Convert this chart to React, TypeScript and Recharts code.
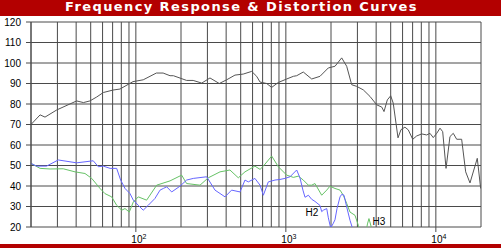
import React from 'react';
import { LineChart, Line, XAxis, YAxis, CartesianGrid, ReferenceDot } from 'recharts';

const TITLE = 'Frequency Response & Distortion Curves';

const Y_TICKS = [20, 30, 40, 50, 60, 70, 80, 90, 100, 110, 120];
const Y_MINOR = Array.from({ length: 101 }, (_, i) => 20 + i);
const X_GRID = [
  20, 30, 40, 50, 60, 70, 80, 90,
  100, 200, 300, 400, 500, 600, 700, 800, 900,
  1000, 2000, 3000, 4000, 5000, 6000, 7000, 8000, 9000,
  10000, 20000,
];
const DECADE_LABELS: Record<number, string> = { 100: '2', 1000: '3', 10000: '4' };

// [Hz, dB]
const response: [number, number][] = [
  [20, 70], [23, 74.7], [24.8, 73.6], [29.7, 77.1], [40.3, 81.5], [44.7, 80.7], [49.4, 81.5],
  [54.8, 83.4], [60.7, 85.6], [70.4, 86.8], [78.4, 87.3], [95.7, 90.9], [112, 91.8], [137, 95.1],
  [152, 95.1], [169, 93.8], [178, 93.8], [218, 91.5], [241, 91.5], [275, 90.2], [312, 92.7],
  [360, 90], [403, 91.8], [458, 94.1], [520, 94.6], [592, 95.9], [639, 93.5], [673, 90.7],
  [745, 90], [805, 88.1], [891, 90.5], [1013, 92.2], [1122, 93.5], [1181, 93.8], [1307, 95.6],
  [1487, 92.2], [1689, 93.5], [1920, 97.6], [2126, 98.4], [2357, 102.5], [2545, 98.4],
  [2748, 89.4], [2967, 88.6], [3282, 86.9], [3638, 83.7], [4034, 79.6], [4358, 78.5],
  [4512, 76.3], [4748, 82], [5000, 84], [5200, 80.4], [5594, 63.5], [5858, 67.5], [6222, 68.7],
  [6547, 67.4], [7011, 62.8], [7452, 64.4], [8048, 65.4], [8690, 64.9], [9138, 65.7],
  [9610, 63.6], [10136, 65.7], [10660, 68.2], [11110, 66.5], [11695, 48.6], [12420, 64.1],
  [13065, 65.7], [13770, 62.8], [14860, 62.8], [15810, 46.9], [16890, 41.5], [18890, 53.5],
  [19900, 38.8],
];

const h2: [number, number][] = [
  [20, 51], [21.8, 49.7], [25.4, 49.7], [30.4, 52.7], [40.3, 51.3], [52, 52.3], [56.2, 49.4],
  [60.7, 49.7], [67.3, 48.6], [74.5, 48.6], [79.2, 42.9], [84.7, 38.8], [91.4, 36.3],
  [96.2, 33.1], [103.8, 30.6], [112, 28.2], [121, 30.6], [134, 33.9], [145, 38], [152.5, 38.8],
  [160.6, 39.6], [173.4, 37.1], [196.8, 39.9], [218, 42.9], [241.5, 43.7], [296.6, 44.5],
  [337, 38], [393, 34.7], [435, 38], [495, 37.1], [534, 42.9], [562, 42], [622, 43.7],
  [673, 40.4], [708, 35.5], [764, 42], [847, 42.9], [914, 43.2], [986, 43.7], [1066, 44.5],
  [1181, 47.8], [1242, 44], [1300, 38], [1342, 34.5], [1413, 35.5], [1487, 33.5], [1564, 32.5],
  [1689, 30.5], [1734, 27.5], [1778, 28.2], [1873, 29], [1920, 24.5], [1990, 19.5],
  [2061, 21.5], [2126, 23.5], [2193, 29], [2297, 34.7], [2357, 35.9], [2442, 35.5],
  [2545, 29.8], [2677, 23.3], [2792, 19], [2850, 16],
];

const h3: [number, number][] = [
  [20, 51], [23, 48.6], [26.8, 48.3], [32.8, 48.4], [39.3, 46.9], [45.8, 46.1], [50.8, 43.7],
  [57.7, 38.8], [62.2, 36.3], [69, 34.7], [74.5, 30.6], [80.5, 28.2], [84.7, 29], [90.4, 27.3],
  [96.2, 32.2], [103.8, 34.7], [118, 33.1], [137.7, 40.4], [169, 42.5], [202, 45.3], [218, 41.2],
  [267.7, 40.4], [304, 44], [364, 46.9], [424, 47.8], [482, 44], [534, 46.9], [622, 49.7],
  [673, 48.1], [708, 49.7], [805, 54.6], [891, 49.4], [1013, 45.3], [1122, 44.2], [1211, 44.8],
  [1307, 42.9], [1413, 40.4], [1487, 40.4], [1564, 41.2], [1734, 35.5], [1873, 38], [1968, 39.9],
  [2126, 38.8], [2297, 38], [2415, 35.5], [2545, 31.5], [2677, 27.3], [2891, 25.7], [3043, 20.8],
  [3121, 17], [3300, 16], [3420, 17.5], [3500, 21.5], [3582, 24.1], [3694, 20.5], [3760, 17],
];

const H2_LABEL = { f: 1493, db: 27 };
const H3_LABEL = { f: 4178, db: 22.5 };

const toRows = (pts: [number, number][]) => pts.map(([f, db]) => ({ f, db }));

const RED = '#b30000';
const GRID = '#4a4a4a';
const FONT = '"Liberation Sans", Arial, sans-serif';

const XTick = (props: any) => {
  const { x, y, payload } = props;
  const exp = DECADE_LABELS[payload.value];
  if (!exp) return <g />;
  return (
    <g>
      <line x1={x} y1={y} x2={x} y2={y + 5} stroke={GRID} />
      <text x={x - 4.5} y={y + 16} fontSize={10} fill="#000" fontFamily={FONT}>
        10
        <tspan dy={-4} fontSize={7}>
          {exp}
        </tspan>
      </text>
    </g>
  );
};

const App = () => {
  return (
    <div style={{ position: 'relative', width: 501, height: 248, background: '#fff', overflow: 'hidden' }}>
      <style>{'body{margin:0}'}</style>
      <LineChart width={501} height={248} margin={{ top: 22, right: 20, bottom: 0, left: 0 }}>
        <CartesianGrid stroke={GRID} />
        <XAxis
          dataKey="f"
          type="number"
          scale="log"
          domain={[20, 20000]}
          ticks={X_GRID}
          interval={0}
          allowDataOverflow
          height={21}
          tickSize={0}
          tickMargin={0}
          tickLine={false}
          axisLine={false}
          tick={<XTick />}
        />
        <YAxis
          type="number"
          domain={[20, 120]}
          ticks={Y_TICKS}
          interval={0}
          allowDataOverflow
          width={31}
          tickSize={5}
          tickMargin={5}
          tickLine={{ stroke: GRID }}
          axisLine={{ stroke: GRID }}
          tick={{ fontSize: 10, fill: '#000', fontFamily: FONT }}
        />
        <YAxis
          yAxisId="minor"
          type="number"
          domain={[20, 120]}
          ticks={Y_MINOR}
          interval={0}
          width={0}
          mirror
          tickSize={4}
          tickLine={{ stroke: GRID }}
          axisLine={false}
          tick={() => <g />}
        />
        <Line data={toRows(h3)} dataKey="db" stroke="#66c266" strokeWidth={1} dot={false} isAnimationActive={false} />
        <Line data={toRows(h2)} dataKey="db" stroke="#6666ff" strokeWidth={1} dot={false} isAnimationActive={false} />
        <Line data={toRows(response)} dataKey="db" stroke="#555" strokeWidth={1} dot={false} isAnimationActive={false} />
        <ReferenceDot
          x={H2_LABEL.f}
          y={H2_LABEL.db}
          r={0}
          stroke="none"
          label={{ value: 'H2', position: 'center', fontSize: 10, fill: '#000', fontFamily: FONT }}
        />
        <ReferenceDot
          x={H3_LABEL.f}
          y={H3_LABEL.db}
          r={0}
          stroke="none"
          label={{ value: 'H3', position: 'center', fontSize: 10, fill: '#000', fontFamily: FONT }}
        />
      </LineChart>
      <div
        style={{
          position: 'absolute',
          left: 0,
          top: 0,
          width: 501,
          height: 16,
          background: RED,
          color: '#fff',
          fontFamily: '"DejaVu Sans", sans-serif',
          fontWeight: 'bold',
          fontSize: 13,
          lineHeight: '14px',
          letterSpacing: 1.4,
          paddingLeft: 65,
          boxSizing: 'border-box',
          whiteSpace: 'nowrap',
        }}
      >
        {TITLE}
      </div>
      <div style={{ position: 'absolute', left: 0, top: 244, width: 501, height: 4, background: RED }} />
    </div>
  );
};

export default App;
